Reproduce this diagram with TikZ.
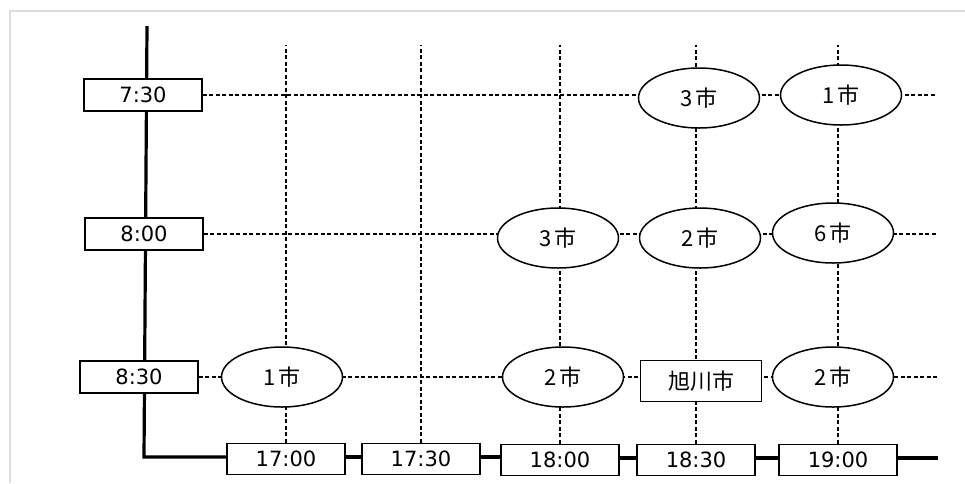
\documentclass[tikz,border=0pt]{standalone}
\usepackage{fontspec}
\setmainfont{DejaVu Sans}
\newfontfamily\jpfont{Noto Sans CJK JP}
\usetikzlibrary{shapes.geometric,backgrounds}
\begin{document}
\begin{tikzpicture}[x=1pt,y=-1pt,
  tbox/.style={draw,line width=1.5pt,fill=white,minimum width=118pt,minimum height=32pt,inner sep=0pt,font=\fontsize{21}{21}\selectfont},
  city/.style={ellipse,draw,line width=1.5pt,fill=white,minimum width=121pt,minimum height=60pt,inner sep=0pt,font=\jpfont\fontsize{22}{22}\selectfont},
  citybox/.style={rectangle,draw,line width=1.5pt,fill=white,minimum width=121pt,minimum height=41pt,inner sep=0pt,font=\jpfont\fontsize{22}{22}\selectfont},
  gridline/.style={dash pattern=on 4pt off 2.5pt,line width=1.1pt},
  axisline/.style={line width=3.2pt},
  framestyle/.style={draw=black!13,line width=2pt}]
\useasboundingbox (0,0) rectangle (965,483);
\draw[framestyle] (965,11) -- (10,11) -- (10,483);

% row labels
\node[tbox] (r730) at (143,95) {7:30};
\node[tbox] (r800) at (144,234) {8:00};
\node[tbox] (r830) at (139,377) {8:30};

% column labels
\node[tbox,minimum height=31pt] (c1700) at (286,459) {17:00};
\node[tbox,minimum height=31pt] (c1730) at (421,459) {17:30};
\node[tbox,minimum height=31pt] (c1800) at (560,460) {18:00};
\node[tbox,minimum height=31pt] (c1830) at (696,460) {18:30};
\node[tbox,minimum height=31pt] (c1900) at (838,460) {19:00};

% cities
\node[city] (a1) at (699,98) {3\kern2pt 市};
\node[city] (a2) at (841,95) {1\kern2pt 市};
\node[city] (b1) at (558,238) {3\kern2pt 市};
\node[city] (b2) at (700,238) {2\kern2pt 市};
\node[city] (b3) at (833,233) {6\kern2pt 市};
\node[city] (d1) at (282,377) {1\kern2pt 市};
\node[city] (d2) at (563,377) {2\kern2pt 市};
\node[citybox] (d3) at (701,381) {旭川市};
\node[city] (d4) at (833,377) {2\kern2pt 市};

\coordinate (gtop) at (0,45);
\coordinate (gend) at (937,0);
\coordinate (axtop) at (147,26);
\coordinate (axcorner) at (144,457);
\coordinate (axend) at (938,458);

\begin{scope}[on background layer]
  \foreach \c in {c1700,c1730,c1800,c1830,c1900}
    \draw[gridline] (\c.north) -- (\c.north |- gtop);
  \foreach \r in {r730,r800,r830}
    \draw[gridline] (\r.east) -- (\r.east -| gend);
  \draw[axisline] (axtop) -- (axcorner) -- (axcorner -| c1700.west);
  \draw[axisline] (c1700.east |- axcorner) -- (c1730.west |- axcorner);
  \draw[axisline] (c1730.east |- axcorner) -- (c1800.west |- axcorner);
  \draw[axisline] (c1800.east |- axend) -- (c1830.west |- axend);
  \draw[axisline] (c1830.east |- axend) -- (c1900.west |- axend);
  \draw[axisline] (c1900.east |- axend) -- (axend);
\end{scope}
\end{tikzpicture}
\end{document}
